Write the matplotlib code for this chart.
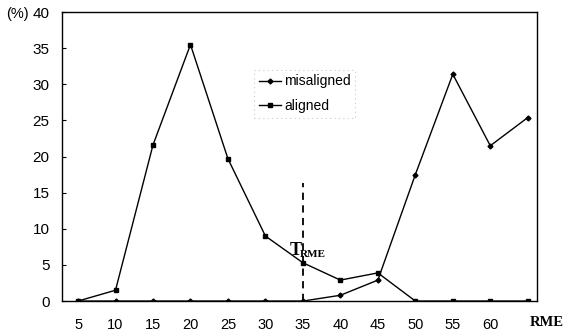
import matplotlib
matplotlib.use("Agg")
import matplotlib.pyplot as plt

plt.rcParams["font.family"] = ["Liberation Sans", "DejaVu Sans"]

rme = [5, 10, 15, 20, 25, 30, 35, 40, 45, 50, 55, 60, 65]
misaligned = [0, 0, 0, 0, 0, 0, 0, 0.8, 2.9, 17.5, 31.4, 21.5, 25.4]
aligned = [0, 1.5, 21.6, 35.5, 19.7, 9.0, 5.3, 2.9, 3.9, 0, 0, 0, 0]
xticks = [5, 10, 15, 20, 25, 30, 35, 40, 45, 50, 55, 60]
yticks = [0, 5, 10, 15, 20, 25, 30, 35, 40]
t_rme = 35

fig = plt.figure(figsize=(5.68, 3.36), dpi=100)
ax = fig.add_axes([0.109, 0.104, 0.836, 0.86])

ax.plot(rme, misaligned, color="black", lw=1.0, marker="D", ms=2.5,
        label="misaligned")
ax.plot(rme, aligned, color="black", lw=1.0, marker="s", ms=3.5,
        label="aligned")
ax.plot([t_rme, t_rme], [0, 16.3], color="black", lw=1.3, ls=(0, (4, 3)))
ax.text(33.2, 6.4, "T", fontsize=13, fontweight="bold",
        family="Liberation Serif")
ax.text(34.6, 6.1, "RME", fontsize=8, fontweight="bold",
        family="Liberation Serif")

ax.set_xlim(2.85, 66.2)
ax.set_ylim(0, 40)
ax.set_xticks(xticks)
ax.set_yticks(yticks)
ax.tick_params(axis="x", length=0, pad=12, labelsize=10.5)
ax.tick_params(axis="y", direction="in", length=3, pad=9, labelsize=11)
for s in ax.spines.values():
    s.set_linewidth(1.0)

fig.text(0.01, 0.958, "(%)", fontsize=10.5, va="center")
ax.text(1.02, -0.075, "RME", transform=ax.transAxes, ha="center", va="center",
        fontsize=10.5, fontweight="bold", family="Liberation Serif")

leg = ax.legend(loc="upper left", bbox_to_anchor=(0.39, 0.825), fontsize=10,
                frameon=True, fancybox=False, handlelength=1.6,
                handletextpad=0.2, borderpad=0.35, labelspacing=0.75)
leg.get_frame().set_edgecolor("#bbbbbb")
leg.get_frame().set_linestyle((0, (1, 3)))
leg.get_frame().set_linewidth(0.8)

fig.savefig("out.png", dpi=100, facecolor="white")
